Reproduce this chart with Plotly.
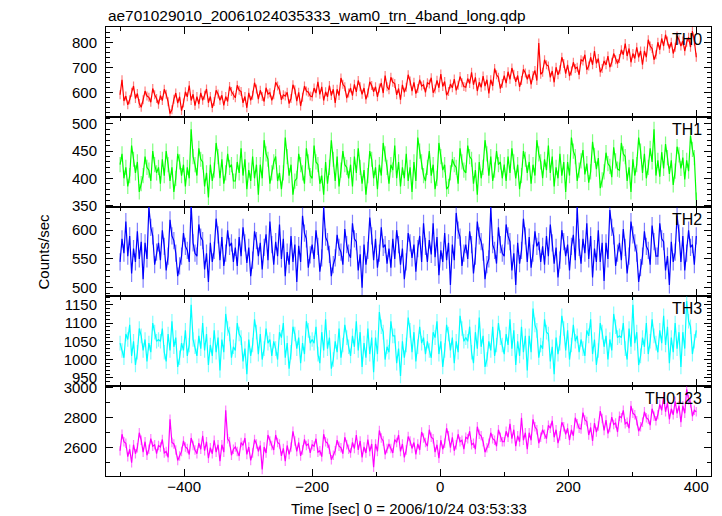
import numpy as np
import plotly.graph_objects as go

# time bins (sec), 3-s sampling of the light curve
time_sec = np.arange(-500, 401, 3)

th0 = [590, 650, 565, 585, 550, 570, 600, 625, 575, 595, 555, 540, 570, 605, 585, 580, 560, 615, 590, 575,
       552, 587, 567, 612, 592, 562, 515, 530, 572, 597, 557, 582, 527, 557, 602, 582, 627, 567, 592, 547,
       583, 553, 598, 568, 588, 613, 558, 583, 538, 563, 608, 593, 568, 588, 548, 583, 563, 623, 603, 588,
       578, 628, 608, 603, 558, 583, 538, 598, 568, 588, 638, 613, 573, 608, 583, 563, 618, 593, 598, 568,
       590, 640, 625, 610, 570, 590, 585, 600, 555, 575, 630, 610, 565, 600, 545, 580, 625, 605, 600, 585,
       582, 617, 597, 642, 592, 622, 567, 602, 582, 627, 587, 612, 557, 612, 587, 657, 632, 622, 577, 597,
       617, 587, 632, 602, 647, 622, 592, 617, 572, 597, 642, 627, 602, 622, 582, 617, 637, 597, 667, 622,
       610, 660, 640, 635, 590, 615, 570, 630, 600, 620, 670, 645, 605, 640, 595, 615, 650, 625, 630, 600,
       638, 633, 658, 598, 613, 648, 618, 673, 623, 643, 588, 603, 633, 618, 653, 608, 628, 663, 638, 623,
       620, 655, 635, 680, 630, 660, 605, 640, 620, 665, 625, 650, 595, 650, 625, 695, 670, 660, 615, 635,
       667, 637, 682, 652, 697, 672, 642, 667, 622, 647, 692, 677, 652, 672, 632, 667, 687, 647, 797, 672,
       680, 730, 710, 705, 660, 685, 640, 700, 670, 690, 740, 715, 675, 710, 665, 685, 720, 695, 700, 670,
       730, 725, 750, 690, 705, 740, 710, 765, 715, 735, 680, 695, 725, 710, 745, 700, 720, 755, 730, 715,
       735, 770, 750, 795, 745, 775, 720, 755, 735, 780, 740, 765, 710, 765, 740, 810, 785, 775, 730, 750,
       800, 770, 815, 785, 830, 805, 775, 800, 755, 780, 825, 810, 785, 805, 765, 800, 820, 780, 845, 805,
       740]

th1 = [425, 445, 400, 420, 385, 405, 460, 435, 410, 430, 375, 390, 405, 440, 420, 415, 395, 450, 425, 410,
       420, 390, 435, 405, 450, 425, 395, 420, 375, 400, 445, 430, 405, 425, 385, 420, 400, 490, 440, 425,
       405, 455, 435, 430, 385, 410, 365, 425, 395, 415, 465, 440, 400, 435, 390, 410, 445, 420, 425, 395,
       395, 430, 410, 455, 405, 435, 380, 415, 395, 440, 400, 425, 370, 425, 400, 470, 445, 435, 390, 410,
       430, 440, 395, 410, 380, 410, 475, 440, 405, 425, 370, 395, 400, 445, 425, 410, 390, 455, 430, 405,
       400, 460, 430, 425, 390, 405, 370, 430, 390, 420, 470, 435, 395, 440, 385, 415, 450, 425, 420, 400,
       425, 385, 440, 410, 455, 420, 390, 415, 370, 405, 450, 435, 400, 420, 380, 425, 405, 465, 445, 420,
       390, 425, 415, 460, 400, 430, 385, 420, 400, 445, 395, 420, 375, 430, 395, 475, 450, 430, 405, 395,
       420, 450, 405, 425, 380, 400, 465, 440, 415, 425, 380, 385, 410, 435, 425, 420, 390, 455, 430, 415,
       410, 460, 440, 435, 390, 415, 370, 430, 400, 420, 470, 445, 405, 440, 395, 415, 450, 425, 430, 400,
       425, 395, 440, 410, 455, 430, 400, 425, 380, 405, 450, 435, 410, 430, 390, 425, 405, 470, 445, 430,
       400, 435, 415, 460, 410, 440, 385, 420, 400, 445, 405, 430, 375, 430, 405, 475, 450, 440, 395, 415,
       432, 452, 407, 427, 392, 412, 467, 442, 417, 437, 382, 397, 412, 447, 427, 422, 402, 457, 432, 417,
       415, 465, 445, 440, 395, 420, 375, 435, 405, 425, 475, 450, 410, 445, 400, 420, 455, 430, 490, 405,
       433, 403, 448, 418, 463, 438, 408, 433, 388, 413, 458, 443, 418, 438, 398, 433, 413, 478, 453, 438,
       360]

th2 = [545, 585, 560, 615, 555, 590, 525, 568, 545, 598, 550, 580, 515, 578, 550, 640, 605, 590, 540, 562,
       578, 548, 600, 572, 530, 555, 618, 590, 582, 560, 520, 538, 555, 595, 572, 565, 545, 645, 578, 560,
       555, 610, 588, 582, 532, 560, 510, 578, 545, 565, 620, 592, 548, 588, 538, 560, 600, 572, 578, 545,
       570, 538, 588, 555, 605, 578, 543, 570, 520, 548, 598, 582, 555, 578, 532, 570, 593, 548, 615, 575,
       540, 580, 555, 610, 550, 585, 520, 562, 540, 590, 545, 575, 510, 573, 545, 625, 595, 585, 535, 557,
       575, 550, 600, 572, 528, 552, 640, 588, 580, 558, 520, 540, 552, 592, 570, 562, 540, 602, 575, 560,
       552, 612, 585, 580, 530, 558, 500, 575, 540, 565, 622, 590, 548, 585, 535, 560, 605, 570, 575, 542,
       568, 535, 585, 550, 600, 575, 540, 568, 515, 545, 595, 578, 552, 575, 528, 568, 590, 545, 612, 572,
       545, 583, 558, 612, 553, 588, 522, 565, 545, 595, 548, 578, 505, 575, 548, 630, 600, 588, 538, 560,
       575, 550, 598, 575, 525, 555, 615, 590, 580, 562, 515, 540, 550, 640, 575, 565, 542, 605, 575, 560,
       555, 610, 590, 580, 530, 560, 505, 578, 542, 565, 620, 590, 545, 588, 535, 560, 598, 572, 580, 545,
       572, 540, 590, 555, 610, 578, 542, 570, 518, 548, 600, 580, 555, 575, 530, 572, 592, 548, 640, 570,
       542, 585, 560, 612, 550, 590, 518, 568, 545, 600, 545, 578, 512, 578, 550, 635, 605, 590, 538, 560,
       578, 548, 602, 570, 525, 555, 615, 592, 578, 560, 510, 535, 555, 598, 572, 565, 540, 608, 580, 555,
       555, 612, 585, 580, 530, 555, 505, 580, 545, 562, 625, 595, 545, 590, 530, 560, 600, 570, 575, 540,
       590]

th3 = [1045, 1025, 1005, 1070, 1055, 1095, 1010, 1050, 985, 1020, 1085, 1065, 1025, 1055, 995, 1045, 1020, 1100, 1075, 1050,
       1055, 1050, 1085, 1020, 995, 1070, 1025, 1105, 1035, 1060, 980, 1005, 1045, 1025, 1080, 1010, 1040, 1150, 1055, 1035,
       1010, 1065, 1030, 1100, 1025, 1070, 985, 1040, 1010, 1080, 1020, 1060, 970, 1055, 1020, 1125, 1085, 1070, 1005, 1035,
       1025, 1100, 1070, 1060, 995, 1030, 960, 1055, 1010, 1040, 1110, 1075, 1015, 1070, 1000, 1030, 1085, 1045, 1055, 1010,
       1050, 1030, 1000, 1075, 1060, 1100, 1005, 1045, 975, 1020, 1090, 1070, 1030, 1060, 990, 1045, 1015, 1105, 1080, 1045,
       1055, 1045, 1090, 1015, 990, 1075, 1025, 1110, 1030, 1060, 975, 1000, 1050, 1020, 1085, 1005, 1040, 1095, 1060, 1035,
       1010, 1065, 1035, 1105, 1025, 1075, 980, 1045, 1005, 1085, 1015, 1060, 965, 1060, 1015, 1130, 1090, 1075, 1000, 1035,
       1020, 1105, 1065, 1065, 990, 1030, 955, 1050, 1005, 1040, 1115, 1080, 1020, 1075, 995, 1035, 1090, 1045, 1060, 1015,
       1050, 1025, 1005, 1075, 1060, 1105, 1015, 1050, 980, 1025, 1095, 1070, 1025, 1060, 990, 1050, 1020, 1120, 1085, 1050,
       1060, 1050, 1090, 1020, 990, 1075, 1030, 1115, 1035, 1065, 980, 1000, 1050, 1025, 1090, 1010, 1040, 1100, 1060, 1040,
       1015, 1070, 1040, 1110, 1030, 1080, 985, 1050, 1010, 1090, 1020, 1065, 970, 1065, 1020, 1140, 1095, 1080, 1005, 1040,
       1030, 1110, 1075, 1070, 995, 1035, 960, 1060, 1015, 1045, 1120, 1085, 1025, 1080, 1000, 1040, 1095, 1050, 1065, 1020,
       1055, 1030, 1010, 1080, 1065, 1110, 1015, 1055, 985, 1025, 1100, 1075, 1035, 1065, 1000, 1055, 1025, 1125, 1090, 1060,
       1065, 1060, 1100, 1030, 1000, 1085, 1035, 1150, 1045, 1075, 985, 1010, 1060, 1035, 1100, 1015, 1050, 1110, 1065, 1045,
       1020, 1080, 1045, 1120, 1040, 1090, 990, 1060, 1020, 1100, 1030, 1075, 980, 1075, 1030, 1160, 1105, 1090, 1015, 1050,
       1080]

th0123 = [2580, 2690, 2640, 2630, 2540, 2590, 2500, 2620, 2560, 2600, 2700, 2650, 2570, 2640, 2550, 2590, 2660, 2610, 2620, 2560,
          2615, 2605, 2655, 2565, 2575, 2535, 2790, 2635, 2625, 2585, 2515, 2545, 2575, 2645, 2605, 2595, 2555, 2665, 2615, 2585,
          2560, 2630, 2590, 2680, 2580, 2640, 2530, 2600, 2560, 2650, 2570, 2620, 2510, 2620, 2570, 2850, 2660, 2640, 2550, 2590,
          2605, 2575, 2545, 2635, 2615, 2665, 2555, 2605, 2515, 2565, 2655, 2625, 2575, 2615, 2455, 2605, 2565, 2685, 2645, 2615,
          2585, 2685, 2635, 2625, 2545, 2595, 2510, 2615, 2555, 2605, 2710, 2645, 2575, 2635, 2545, 2585, 2655, 2615, 2625, 2565,
          2620, 2610, 2660, 2570, 2580, 2540, 2690, 2640, 2630, 2590, 2520, 2550, 2580, 2650, 2610, 2600, 2560, 2670, 2620, 2590,
          2565, 2635, 2595, 2685, 2585, 2645, 2535, 2605, 2565, 2655, 2575, 2625, 2470, 2625, 2575, 2715, 2665, 2645, 2555, 2595,
          2625, 2595, 2565, 2655, 2635, 2685, 2575, 2625, 2535, 2585, 2675, 2645, 2595, 2635, 2555, 2625, 2585, 2705, 2665, 2635,
          2610, 2720, 2670, 2660, 2570, 2620, 2530, 2650, 2590, 2630, 2730, 2680, 2600, 2670, 2580, 2620, 2690, 2640, 2650, 2590,
          2670, 2660, 2710, 2620, 2630, 2590, 2740, 2690, 2680, 2640, 2570, 2600, 2630, 2700, 2660, 2650, 2610, 2720, 2670, 2640,
          2640, 2710, 2670, 2760, 2660, 2720, 2610, 2680, 2640, 2800, 2650, 2700, 2590, 2700, 2650, 2790, 2740, 2720, 2630, 2670,
          2720, 2690, 2660, 2750, 2730, 2780, 2670, 2720, 2630, 2680, 2770, 2740, 2690, 2730, 2650, 2720, 2680, 2800, 2760, 2730,
          2725, 2835, 2785, 2775, 2685, 2735, 2645, 2765, 2705, 2745, 2845, 2795, 2715, 2785, 2695, 2735, 2805, 2755, 2765, 2705,
          2810, 2800, 2850, 2760, 2770, 2730, 2880, 2830, 2820, 2780, 2710, 2740, 2770, 2840, 2800, 2790, 2750, 2860, 2810, 2780,
          2820, 2890, 2850, 2940, 2840, 2900, 2790, 2860, 2820, 2910, 2830, 2880, 2770, 2880, 2830, 2990, 2920, 2900, 2810, 2850,
          2840]

# typical 1-sigma error bar of each band (counts/sec)
band_errors = [18, 14, 15, 20, 32]

band_names = ["TH0", "TH1", "TH2", "TH3", "TH0123"]
band_values = [th0, th1, th2, th3, th0123]
band_colors = ["#ff0000", "#00ff00", "#0000ff", "#00ffff", "#ff00ff"]
err_colors = ["rgba(255,0,0,0.5)", "rgba(0,255,0,0.5)", "rgba(0,0,255,0.5)",
              "rgba(0,255,255,0.5)", "rgba(255,0,255,0.5)"]
y_ranges = [[502, 861], [348, 513], [485, 641], [927, 1173], [2411, 3011]]
y_dticks = [100, 50, 50, 50, 200]
y_minor = [20, 10, 10, 10, 100]

title_text = "ae701029010_20061024035333_wam0_trn_4band_long.qdp"
x_title = "Time [sec] 0 = 2006/10/24 03:53:33"
y_title = "Counts/sec"

FONT = "Liberation Sans, Arial, sans-serif"
fig = go.Figure()
n = len(band_names)
layout = dict(
    width=714, height=508,
    margin=dict(l=98, r=11, t=19, b=40),
    paper_bgcolor="white", plot_bgcolor="white",
    showlegend=False,
    font=dict(family=FONT, size=15, color="black"),
)
annotations = []
for i in range(n):
    sfx = "" if i == 0 else str(i + 1)
    fig.add_trace(go.Scatter(
        x=time_sec, y=band_values[i], mode="lines",
        line=dict(color=band_colors[i], width=1.2),
        error_y=dict(type="constant", value=band_errors[i], color=err_colors[i],
                     thickness=1.2, width=0),
        xaxis="x" + sfx, yaxis="y" + sfx, hoverinfo="skip"))
    top = 1 - i / n
    bot = 1 - (i + 1) / n
    xa = dict(
        domain=[0, 1], anchor="y" + sfx, range=[-522, 423],
        tickmode="linear", tick0=0, dtick=200,
        ticks="inside", ticklen=7, tickcolor="black", tickwidth=1,
        minor=dict(dtick=100, tick0=0, ticks="inside", ticklen=4, tickcolor="black"),
        showline=True, linecolor="black", linewidth=1, mirror="allticks",
        showgrid=False, zeroline=False,
        showticklabels=(i == n - 1),
        tickfont=dict(size=15),
    )
    if i == n - 1:
        xa["ticklabelstandoff"] = -3
    ya = dict(
        domain=[bot, top], anchor="x" + sfx, range=y_ranges[i],
        tickmode="linear", tick0=0, dtick=y_dticks[i],
        ticks="inside", ticklen=7, tickcolor="black", tickwidth=1,
        minor=dict(dtick=y_minor[i], tick0=0, ticks="inside", ticklen=4, tickcolor="black"),
        showline=True, linecolor="black", linewidth=1, mirror="allticks",
        showgrid=False, zeroline=False,
        tickfont=dict(size=15), ticklabelstandoff=5,
    )
    if i > 0:
        xa["matches"] = "x"
    layout["xaxis" + sfx] = xa
    layout["yaxis" + sfx] = ya
    annotations.append(dict(
        text=band_names[i], xref="paper", yref="paper", x=1, y=top,
        xanchor="right", yanchor="top", xshift=-7, yshift=-2,
        showarrow=False, font=dict(size=16, color="black")))

annotations.append(dict(text=title_text, xref="paper", yref="paper", x=0, y=1,
                        xanchor="left", yanchor="middle", yshift=12, showarrow=False,
                        font=dict(size=15.4, color="black")))
annotations.append(dict(text=x_title, xref="paper", yref="paper", x=0.5, y=0,
                        xanchor="center", yanchor="middle", yshift=-32, showarrow=False,
                        font=dict(size=15, color="black")))
annotations.append(dict(text=y_title, xref="paper", yref="paper", x=0, y=0.5,
                        xanchor="center", yanchor="middle", xshift=-63, textangle=-90,
                        showarrow=False, font=dict(size=15, color="black")))
layout["annotations"] = annotations
fig.update_layout(**layout)
fig.write_html("out.html")
